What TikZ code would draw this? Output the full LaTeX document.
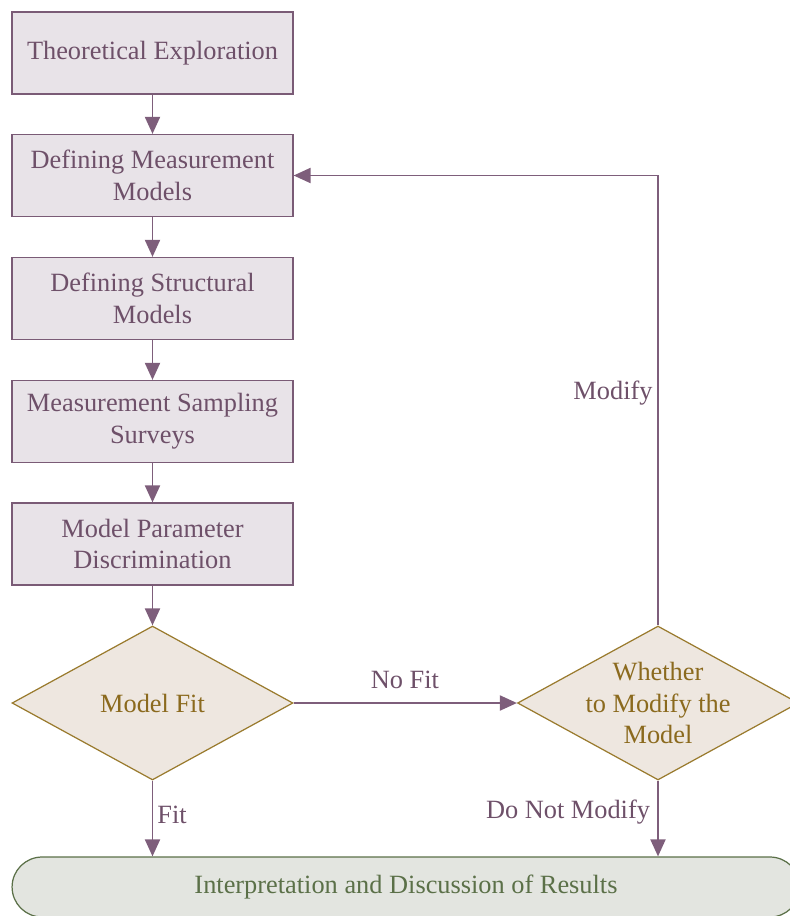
\documentclass[tikz,border=0pt]{standalone}
\usepackage{fontspec}
\setmainfont{Liberation Serif}
\usepackage{tikz}
\usetikzlibrary{positioning,arrows.meta,shapes.geometric,calc}

\definecolor{boxfill}{HTML}{E8E3E8}
\definecolor{boxline}{HTML}{7A5B76}
\definecolor{boxtext}{HTML}{6E5069}
\definecolor{flowcol}{HTML}{7E5E7B}
\definecolor{decfill}{HTML}{EEE7E0}
\definecolor{decline}{HTML}{9A7B2E}
\definecolor{dectext}{HTML}{8B6A1E}
\definecolor{endfill}{HTML}{E3E5E0}
\definecolor{endline}{HTML}{5B7048}

\begin{document}
\begin{tikzpicture}[
    x=0.02cm, y=-0.02cm,
    every node/.style={font=\fontsize{15}{18}\selectfont},
    stepbox/.style={rectangle, draw=boxline, fill=boxfill, text=boxtext, line width=0.7pt,
        minimum width=5.62cm, minimum height=1.64cm, align=center, inner sep=2pt},
    decision/.style={diamond, aspect=1.82, draw=decline, fill=decfill, text=dectext, line width=0.7pt,
        minimum width=5.62cm, minimum height=3.08cm, align=center, inner sep=0pt},
    terminal/.style={rectangle, rounded corners=0.6cm, draw=endline, fill=endfill, text=endline,
        line width=0.7pt, minimum width=15.76cm, minimum height=1.2cm},
    flow/.style={draw=flowcol, line width=1.1pt, -{Triangle[length=0.34cm,width=0.3cm]}},
    edgelabel/.style={text=boxtext}
]
\useasboundingbox (0,0) rectangle (790,916);

% Main chain of steps
\node[stepbox] (theory)  at (152.5, 53)    {Theoretical Exploration};
\node[stepbox] (measure) at (152.5, 175.5) {Defining Measurement\\Models};
\node[stepbox] (struct)  at (152.5, 298.5) {Defining Structural\\Models};
\node[stepbox] (survey)  at (152.5, 421.5) {Measurement Sampling\\Surveys};
\node[stepbox] (param)   at (152.5, 544)   {Model Parameter\\Discrimination};

% Decisions (smashed text so the diamond keeps its size)
\node[decision] (fit)     at (152.5, 703) {Model Fit};
\node[decision] (whether) at (658, 703)
    {\smash{\raisebox{-5.2pt}{\begin{tabular}{@{}c@{}}Whether\\to Modify the\\Model\end{tabular}}}};

% Final result (runs off the right edge)
\node[terminal] (result) at (406, 887) {Interpretation and Discussion of Results};

% Arrows down the chain
\draw[flow] (theory) -- (measure);
\draw[flow] (measure) -- (struct);
\draw[flow] (struct) -- (survey);
\draw[flow] (survey) -- (param);
\draw[flow] (param) -- (fit);

% Branches
\draw[flow] (fit.east) -- (whether.west);
\draw[flow] (fit.south) -- (fit.south |- result.north);
\draw[flow] (whether.south) -- (whether.south |- result.north);
\draw[flow] (whether.north) |- (measure.east);

% Branch labels
\node[edgelabel] (nofit)    at (405, 680) {No Fit};
\node[edgelabel] (yesfit)   at (172, 815) {Fit};
\node[edgelabel] (keep)     at (568, 812) {Do Not Modify};
\node[edgelabel] (modify)   at (613, 393) {Modify};

\end{tikzpicture}
\end{document}
